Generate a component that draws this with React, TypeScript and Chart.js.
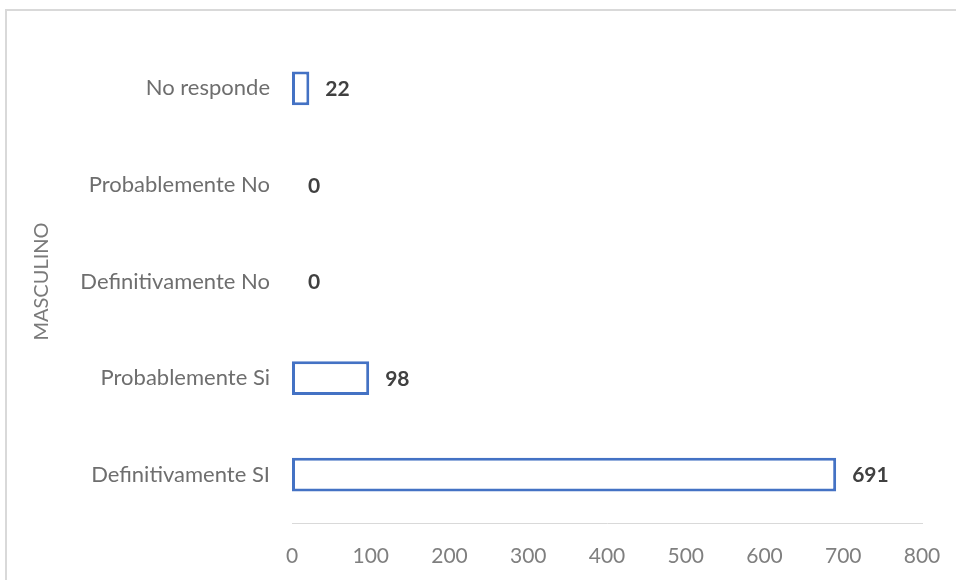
import React, { useEffect, useRef } from "react";
import { Chart, registerables } from "chart.js";

Chart.register(...registerables);

const categories = ["No responde", "Probablemente No", "Definitivamente No", "Probablemente Si", "Definitivamente SI"];
const values = [22, 0, 0, 98, 691];
const xTicks = [0, 100, 200, 300, 400, 500, 600, 700, 800];
const axisTitle = "MASCULINO";

const FONT = "Lato, 'Open Sans', sans-serif";

const framePlugin = {
  id: "frame",
  beforeDraw(chart: any) {
    const ctx = chart.ctx;
    ctx.save();
    ctx.fillStyle = "#ffffff";
    ctx.fillRect(0, 0, chart.width, chart.height);
    ctx.strokeStyle = "#d9d9d9";
    ctx.lineWidth = 2;
    ctx.beginPath();
    ctx.moveTo(6, chart.height + 10);
    ctx.lineTo(6, 10);
    ctx.lineTo(chart.width + 10, 10);
    ctx.stroke();
    ctx.restore();
  },
};

const labelPlugin = {
  id: "valueLabels",
  afterDatasetsDraw(chart: any) {
    const ctx = chart.ctx;
    const meta = chart.getDatasetMeta(0);
    ctx.save();
    ctx.font = `bold 21px ${FONT}`;
    ctx.fillStyle = "#404040";
    ctx.textAlign = "left";
    ctx.textBaseline = "middle";
    meta.data.forEach((bar: any, i: number) => {
      ctx.fillText(String(values[i]), bar.x + 16, bar.y + 1);
    });
    ctx.restore();
  },
};

export default function App() {
  const ref = useRef<HTMLCanvasElement>(null);
  useEffect(() => {
    if (!ref.current) return;
    const chart = new Chart(ref.current, {
      type: "bar",
      data: {
        labels: categories,
        datasets: [
          {
            data: values,
            backgroundColor: "#ffffff",
            borderColor: "#4472C4",
            borderWidth: 3,
            borderSkipped: false,
            categoryPercentage: 1,
            barPercentage: 0.35,
          },
        ],
      },
      options: {
        indexAxis: "y",
        animation: false,
        responsive: false,
        layout: { padding: { left: 30, top: 40, right: 34, bottom: 13 } },
        plugins: { legend: { display: false }, tooltip: { enabled: false } },
        scales: {
          x: {
            min: 0,
            max: 800,
            afterBuildTicks: (scale: any) => {
              scale.ticks = xTicks.map((v) => ({ value: v }));
            },
            afterFit: (scale: any) => {
              scale.height = 44;
              scale.paddingLeft = 0;
              scale.paddingRight = 0;
            },
            grid: { display: false, drawTicks: false },
            border: { display: true, color: "#d9d9d9", width: 1 },
            ticks: { color: "#7f7f7f", padding: 21, font: { family: FONT, size: 21 } },
          },
          y: {
            grid: { display: false, drawTicks: false },
            border: { display: false },
            afterFit: (scale: any) => {
              scale.width = 262;
            },
            ticks: { color: "#6e6e6e", padding: 22, font: { family: FONT, size: 22 } },
            title: {
              display: true,
              text: axisTitle,
              color: "#7a7a7a",
              padding: { top: 0, bottom: 0 },
              font: { family: FONT, size: 20 },
            },
          },
        },
      },
      plugins: [framePlugin, labelPlugin],
    });
    return () => chart.destroy();
  }, []);
  return (
    <div style={{ position: "fixed", left: 0, top: 0, width: 956, height: 580 }}>
      <canvas ref={ref} width={956} height={580} style={{ width: 956, height: 580, display: "block" }} />
    </div>
  );
}
